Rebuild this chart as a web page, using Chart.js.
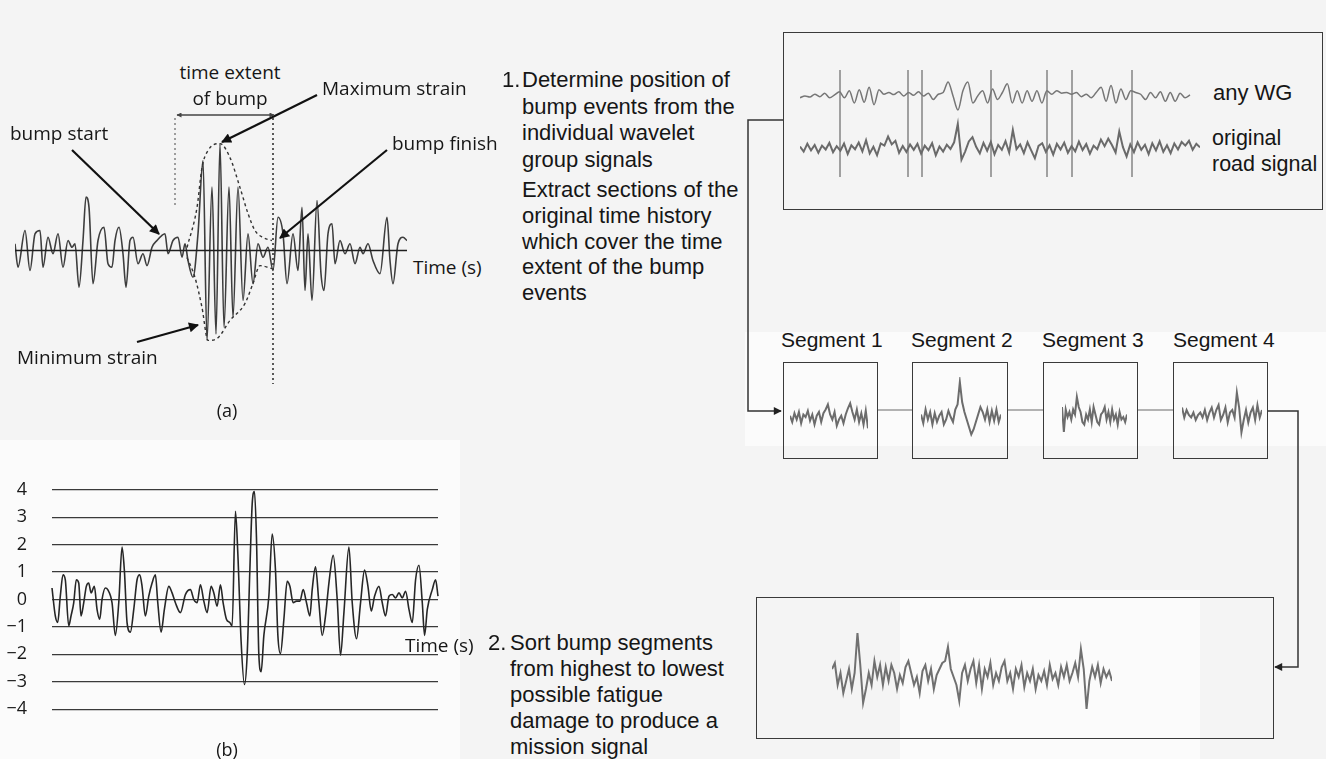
<!DOCTYPE html>
<html>
<head>
<meta charset="utf-8">
<title>Bump segments to mission signal</title>
<script src="https://cdn.jsdelivr.net/npm/chart.js@4.4.1/dist/chart.umd.min.js"></script>
<style>
html, body { margin: 0; padding: 0; }
body {
    width: 1326px; height: 759px; position: relative; overflow: hidden;
    background: #f4f4f4; color: #161616;
    font-family: "Liberation Sans", Arial, sans-serif;
}
canvas { position: absolute; }
.patch { position: absolute; background: #fbfbfb; }
.box { position: absolute; border: 1.5px solid #3a3a3a; box-sizing: border-box; }
.lbl { position: absolute; font-family: "Open Sans", sans-serif; font-size: 19px; line-height: 24px; white-space: nowrap; }
.txt { position: absolute; font-size: 22px; white-space: nowrap; }
.seg { position: absolute; font-size: 21px; line-height: 24px; white-space: nowrap; }
svg { position: absolute; left: 0; top: 0; }
</style>
</head>
<body>

<div class="patch" style="left:0;top:440px;width:460px;height:319px"></div>
<div class="patch" style="left:745px;top:332px;width:581px;height:114px"></div>
<div class="patch" style="left:900px;top:590px;width:300px;height:169px"></div>

<!-- panel (a) -->
<canvas id="chartA" width="392" height="297" style="left:15px;top:102px"></canvas>
<div class="lbl" style="left:230px;top:60px;transform:translateX(-50%)">time extent</div>
<div class="lbl" style="left:230px;top:86px;transform:translateX(-50%)">of bump</div>
<div class="lbl" style="left:322px;top:76px">Maximum strain</div>
<div class="lbl" style="left:10px;top:121px">bump start</div>
<div class="lbl" style="left:392px;top:131px">bump finish</div>
<div class="lbl" style="left:413px;top:255px">Time (s)</div>
<div class="lbl" style="left:17px;top:345px">Minimum strain</div>
<div class="lbl" style="left:227px;top:398px;font-size:18px;transform:translateX(-50%)">(a)</div>

<!-- panel (b) -->
<canvas id="chartB" width="445" height="291" style="left:0;top:454px"></canvas>
<div class="lbl" style="left:405px;top:633px">Time (s)</div>
<div class="lbl" style="left:227px;top:737px;font-size:18px;transform:translateX(-50%)">(b)</div>

<!-- step texts -->
<div class="txt" style="left:502px;top:67px;line-height:26.5px">1.</div>
<div class="txt" style="left:522px;top:67px;line-height:26.5px">Determine position of<br>bump events from the<br>individual wavelet<br>group signals</div>
<div class="txt" style="left:522px;top:177px;line-height:25.8px">Extract sections of the<br>original time history<br>which cover the time<br>extent of the bump<br>events</div>
<div class="txt" style="left:488px;top:630px;line-height:26px">2.</div>
<div class="txt" style="left:510px;top:630px;line-height:26px">Sort bump segments<br>from highest to lowest<br>possible fatigue<br>damage to produce a<br>mission signal</div>

<!-- top box -->
<div class="box" style="left:783px;top:32px;width:540px;height:178px"></div>
<canvas id="chartTop" width="400" height="130" style="left:800px;top:55px"></canvas>
<div class="seg" style="left:1213px;top:81px;font-size:22px">any WG</div>
<div class="seg" style="left:1212px;top:125px;font-size:21.5px;line-height:26px">original<br>road signal</div>

<!-- segments -->
<div class="seg" style="left:781px;top:328px">Segment 1</div>
<div class="seg" style="left:911px;top:328px">Segment 2</div>
<div class="seg" style="left:1042px;top:328px">Segment 3</div>
<div class="seg" style="left:1173px;top:328px">Segment 4</div>
<div class="box" style="left:783px;top:362px;width:95px;height:97px"></div>
<div class="box" style="left:912px;top:362px;width:96px;height:97px"></div>
<div class="box" style="left:1043px;top:362px;width:95px;height:97px"></div>
<div class="box" style="left:1173px;top:362px;width:95px;height:97px"></div>
<canvas id="seg1" width="78" height="80" style="left:790px;top:377px"></canvas>
<canvas id="seg2" width="80" height="80" style="left:921px;top:377px"></canvas>
<canvas id="seg3" width="65" height="80" style="left:1062px;top:377px"></canvas>
<canvas id="seg4" width="80" height="80" style="left:1182px;top:375px"></canvas>

<!-- mission box -->
<div class="box" style="left:756px;top:597px;width:518px;height:142px"></div>
<canvas id="mission" width="280" height="100" style="left:832px;top:627px"></canvas>

<svg width="1326" height="759">
    <defs>
        <marker id="ah" viewBox="0 0 10 10" refX="9" refY="5" markerWidth="13" markerHeight="10"
                markerUnits="userSpaceOnUse" orient="auto-start-reverse">
            <path d="M0,0 L10,5 L0,10 z" fill="#111"/>
        </marker>
        <marker id="ahs" viewBox="0 0 10 10" refX="9" refY="5" markerWidth="10" markerHeight="8"
                markerUnits="userSpaceOnUse" orient="auto-start-reverse">
            <path d="M0,0 L10,5 L0,10 z" fill="#222"/>
        </marker>
        <marker id="aht" viewBox="0 0 10 10" refX="9" refY="5" markerWidth="6" markerHeight="5"
                markerUnits="userSpaceOnUse" orient="auto-start-reverse">
            <path d="M0,0 L10,5 L0,10 z" fill="#444"/>
        </marker>
    </defs>
    <g stroke="#111" stroke-width="2.2" fill="none">
        <line x1="72" y1="150" x2="159" y2="234" marker-end="url(#ah)"/>
        <line x1="317" y1="95" x2="222" y2="142" marker-end="url(#ah)"/>
        <line x1="387" y1="150" x2="280" y2="238" marker-end="url(#ah)"/>
        <line x1="137" y1="342" x2="198" y2="325" marker-end="url(#ah)"/>
    </g>
    <line x1="177" y1="115" x2="274" y2="115" stroke="#444" stroke-width="1.3"
          marker-start="url(#aht)" marker-end="url(#aht)"/>
    <g stroke="#333" stroke-width="1.6" stroke-dasharray="2,3" fill="none">
        <line x1="175" y1="118" x2="175" y2="205" stroke="#888"/>
        <line x1="273" y1="118" x2="273" y2="384"/>
    </g>
    <g stroke="#333" stroke-width="1.5" fill="none">
        <polyline points="783,120 748,120 748,411 781,411" marker-end="url(#ahs)"/>
        <polyline points="1268,411 1298,411 1298,667 1275,667" marker-end="url(#ahs)"/>
    </g>
    <g stroke="#9a9a9a" stroke-width="1.5">
        <line x1="878" y1="410" x2="912" y2="410"/>
        <line x1="1008" y1="410" x2="1043" y2="410"/>
        <line x1="1138" y1="410" x2="1173" y2="410"/>
    </g>
</svg>

<script>
// (a) strain history around a bump, time in 0.1 s units
const aTime = [0, 0.3, 1, 1.5, 2, 2.5, 2.8, 3.3, 3.8, 4.3, 4.8, 5.3, 5.7, 6, 6.4, 6.8, 7.1, 7.4, 7.8, 8.3,
    8.9, 9.3, 9.7, 10, 10.4, 10.8, 11.1, 11.5, 11.8, 12.3, 12.8, 13.2, 13.7, 14.2, 14.7, 15, 15.3, 15.8, 16.3, 16.7,
    17, 17.3, 17.8, 18.3, 18.8, 19.2, 19.7, 20.1, 20.5, 20.9, 21.4, 21.8, 22.3, 22.8, 23.3, 23.8, 24.3, 24.8, 25.3, 25.8,
    26.3, 26.8, 27.2, 27.8, 28.3, 28.7, 29, 29.3, 29.7, 30.2, 30.6, 30.9, 31.3, 31.7, 32, 32.5, 33, 33.5, 34, 34.5,
    34.8, 35.3, 35.8, 36.5, 37.2, 37.5, 37.8, 38.3, 38.8, 39.2];
const aStrain = [0.25, -0.62, 0.74, -0.74, 0.62, 0.74, -0.62, 0.49, -0.12, 0.62, -0.62, 0.37, 0.12, 0.25, -1.36, 0.37, 1.98, 1.6, -1.23, 0.37,
    0.86, -0.49, -0.62, 0.37, 0.86, -0.12, -1.36, 0.37, 0.49, -0.49, -0.12, -0.56, 0.12, 0.37, 0.56, 0.62, -0.12, 0.37, 0.49, -0.25,
    0.25, -0.37, -0.99, 0.62, 3.33, -3.33, 2.35, -3.09, 3.95, -2.84, 2.35, -2.47, 2.35, -1.85, 0.62, -1.23, 0.25, -0.25, 0.12, -0.74,
    1.23, 0.62, -1.23, 0.62, -0.74, 1.6, -1.48, 0.62, -1.85, 1.85, -0.86, -1.48, 0.62, 0.99, -0.49, 0.37, -0.12, 0.25, -0.49, 0.12,
    -0.12, 0.25, -0.37, -0.86, 1.23, -0.37, -1.23, 0.25, 0.49, 0.37];
const upperEnvTime = [17.2, 18.2, 18.7, 19.3, 20.5, 21.5, 22.5, 23.3, 24.0, 24.8, 25.7];
const upperEnv = [0.11, 1.59, 3.07, 3.7, 3.96, 3.44, 2.33, 1.37, 0.74, 0.48, 0.37];
const lowerEnvTime = [17.2, 18.0, 18.7, 19.3, 20.2, 21.5, 23.0, 23.8, 24.5, 25.7];
const lowerEnv = [-0.26, -1.0, -2.11, -3.33, -3.26, -2.59, -1.96, -1.22, -0.56, -0.67];

// (b) normalised signal with level lines
const bTime = [0, 0.33, 0.57, 0.83, 1.1, 1.33, 1.67, 1.9, 2.17, 2.43, 2.67, 2.9, 3.17, 3.43, 3.67, 3.9, 4.23, 4.5, 4.77, 5,
    5.33, 5.57, 6, 6.33, 6.67, 7, 7.23, 7.5, 7.83, 8.17, 8.5, 8.77, 9, 9.33, 9.67, 10, 10.33, 10.57, 10.9, 11.23,
    11.67, 12, 12.33, 12.83, 13.33, 13.83, 14.17, 14.5, 14.83, 15.17, 15.5, 15.9, 16.17, 16.5, 16.83, 17.1, 17.43, 17.77, 18, 18.33,
    18.57, 18.9, 19.23, 19.5, 19.77, 20, 20.23, 20.43, 20.67, 20.9, 21.17, 21.67, 22, 22.33, 22.57, 22.83, 23.17, 23.5, 23.77, 24.1,
    24.43, 24.77, 25.1, 25.43, 25.77, 26, 26.33, 26.67, 27, 27.33, 27.67, 28.1, 28.5, 28.83, 29.17, 29.67, 30, 30.43, 30.83, 31.23,
    31.57, 31.9, 32.23, 32.67, 33, 33.33, 33.67, 34, 34.33, 34.67, 35, 35.33, 35.67, 36, 36.33, 36.67, 37, 37.23, 37.5, 38,
    38.33, 38.57];
const bValue = [0.42, -0.6, -0.84, 0.12, 0.9, 0.72, -0.96, -0.6, -0.12, 0.72, 0.6, -0.6, -0.12, 0.48, 0.6, 0.24, 0.48, -0.36, -0.72, 0,
    0.42, 0.36, -0.12, -1.31, -0.12, 1.91, 1.07, -0.84, -1.19, -0.36, 0.72, 0.9, 0.48, -0.6, 0.12, 0.6, 0.9, -0.12, -1.19, -0.36,
    0.48, 0.24, -0.12, -0.48, 0.18, 0.36, 0, -0.12, 0.54, -0.06, -0.48, 0.48, 0.24, -0.24, 0.54, -0.12, -0.72, -0.84, -0.96, 3.22,
    1.67, -1.55, -3.1, -2.03, 1.07, 3.46, 3.94, 2.27, -2.03, -2.63, -1.31, 0.12, 2.39, 1.07, -1.31, -1.97, -0.72, 0.66, 0.48, -0.12,
    -0.06, -0.06, 0.36, -0.12, -0.6, 0.36, 1.19, -0.12, -1.31, -0.6, 0.6, 1.61, 0, -2.03, -0.48, 1.91, -0.12, -1.43, -0.12, 1.07,
    0.48, -0.42, 0.12, 0.48, -0.12, -0.6, 0.12, 0.18, 0.06, 0.24, 0.06, 0.3, -0.36, -0.84, 0.72, 1.25, -0.12, -1.31, -0.36, 0.36,
    0.72, 0.12];
const bTicks = [-4, -3, -2, -1, 0, 1, 2, 3, 4];
const bTickLabels = ['\u22124', '\u22123', '\u22122', '\u22121', '0', '1', '2', '3', '4'];

// top box: one wavelet group and the road signal, sampled evenly over 0..100
const wgSignal = [-0.5, 0, -0.3, 0.5, -0.2, 0.8, -0.5, 0.3, 1.2, -0.5,
    1.5, -2.0, 1.8, -1.8, 2.5, -2.5, 1.8, 0.5, 1.0, 0.4,
    1.2, 0.0, 1.0, 0.2, 1.2, 0.0, 0.8, -1.0, 0.5, 1.0,
    4.0, 0.0, -4.0, 1.5, 4.0, -2.0, 0.0, 1.5, -2.0, 2.0,
    -1.0, 1.0, 3.5, -2.0, 1.5, -2.0, 1.5, -1.5, 1.5, -2.0,
    1.5, 0.5, 1.5, 0.8, 1.0, 0.5, 1.0, -0.2, 0.5, -0.5,
    1.0, 2.5, -1.5, 3.0, -2.0, 2.0, -1.0, 1.5, 1.0, 0.5,
    -1.0, 1.0, -0.5, 1.2, -1.5, 1.0, -1.5, 0.8, -0.5, 0.3];
const roadSignal = [0.5, -1.2, 1.4, -0.8, 1.0, -1.6, 0.8, -0.5, 1.7, -1.4,
    0.6, -0.9, 1.5, -2.0, 0.9, -0.4, 1.8, -1.1, 2.6, -1.8,
    0.4, -2.4, 1.5, 0.8, 3.8, 1.2, 2.4, -1.6, 0.7, -1.3,
    1.2, -0.6, 1.4, -1.9, 0.8, -0.7, 1.6, -2.4, 0.5, -1.2,
    1.1, -0.3, 1.9, 8.0, -3.9, -1.2, 2.2, 3.6, 0.4, -1.8,
    1.7, -0.9, 2.0, -2.1, 1.0, -0.6, 2.3, -1.5, 6.0, -0.4,
    1.2, -1.7, 1.9, -0.8, -3.4, 0.7, 1.6, -1.3, 0.9, -2.2,
    1.4, -0.5, 1.8, -1.6, 0.6, -1.1, 2.1, -0.7, 1.3, -1.9,
    0.8, -0.4, 2.8, 0.6, 3.1, 1.0, -1.5, 5.5, 0.3, -2.8,
    1.2, -1.4, 1.9, -0.6, 1.1, -2.0, 1.6, -0.8, 2.2, -1.3,
    0.9, -1.7, 1.5, -0.5, 2.0, 0.8, 2.4, -0.6, 1.4, 0.2];
const bumpTimes = [10, 27, 30.5, 47.75, 61.75, 68, 83];
const bumpLineTop = 26;
const bumpLineBottom = -9.7;

// extracted bump segments
const segment1 = [0.5, -2, 1.5, -1, 2, -2.5, 1, 0, 2.5, -1.5, 1, -3, 0.5, 2, -2, 1.5, 3, 5, 1, -1,
    2, -3.5, -1, 0.5, -2.5, 1, 3.5, 5.5, 2, -1, 3, -2, 1.5, -3, 2.5, -4.5];
const segment2 = [1, -2.5, 3, -1, 2, -3, 1.5, -2, 0.5, 2, -3, -1, 2.5, 0, -2, 3, 5, 14, 6, 2,
    -1, -4, -7, -5, -2, 1, 4, 2, -1, 3, -2, 2.5, -1.5, 3, -2, 1];
const segment3 = [4, -6, 3, 0, 2, -1, 3, 1, 8, 4, 2, -2, -3, 1, -1, 3, -2, 4, 1, -2,
    -3, 1, 2, 4, -1, 2, -2, 3, -1, 1, -3, 2, -1, 0, -2, 1];
const segment4 = [3, -1, 2, 0, -1, 1, -2, 0, 1, -1, 2, -2, 1, 3, -1, 2, 4, -2, 0, 3,
    -3, 1, 2, -1, 9, 3, -7, -2, 2, -3, 1, 3, -2, 4, -1, 2];

// sorted mission signal
const missionSignal = [2, 3.5, -2, 1, -4, -1, 2, -3, 1, 11,
    3, -6.5, -3, 1, -2, 4, 0, 3, -2, 2.5,
    -1, 3, 1, -3, 0.5, -1.5, 2.5, 4, 1, -2,
    0, -4, 1.5, 3, -1, 2, -3, 0.5, 2, 3.5,
    4, 7.5, 2, 0, -2, -6, 1, 3, -1, 2,
    4, -1.5, 3, -3, 2, 0, 3.5, -2, 1, -1,
    2.5, 4, -1, 1, -3, 2, 0, 3, -2.5, 1,
    -1, 2, -3, 0.5, -1, 1.5, -2, 3, -0.5, 1,
    -2, 2.5, 0, 3, -1, 1, 3.5, 0, 7, 2,
    -8, -1, 2.5, 0, 3, -1.5, 2, 0, 1.5, -1];

Chart.defaults.font.family = '"Open Sans", sans-serif';

function pairs(xs, ys) {
    return xs.map((x, i) => ({ x: x, y: ys[i] }));
}

function evenly(values, span) {
    const step = span / (values.length - 1);
    return values.map((v, i) => ({ x: i * step, y: v }));
}

function line(data, color, width, extra) {
    return Object.assign({
        data: data,
        borderColor: color,
        borderWidth: width,
        pointRadius: 0,
        tension: 0,
        fill: false,
        clip: false
    }, extra || {});
}

const smooth = { cubicInterpolationMode: 'monotone' };

function hidden(min, max) {
    return { type: 'linear', min: min, max: max, display: false };
}

function drawChart(id, datasets, scales, plugins, padding) {
    return new Chart(document.getElementById(id).getContext('2d'), {
        type: 'line',
        data: { datasets: datasets },
        options: {
            responsive: false,
            animation: false,
            devicePixelRatio: 1,
            layout: { padding: padding || 0 },
            plugins: { legend: { display: false }, tooltip: { enabled: false } },
            scales: scales
        },
        plugins: plugins || []
    });
}

// (a)
drawChart('chartA', [
    line([{ x: 0, y: 0 }, { x: 39.2, y: 0 }], '#1e1e1e', 1.5),
    line(pairs(upperEnvTime, upperEnv), '#333', 1.4, { borderDash: [3, 3], cubicInterpolationMode: 'monotone' }),
    line(pairs(lowerEnvTime, lowerEnv), '#333', 1.4, { borderDash: [3, 3], cubicInterpolationMode: 'monotone' }),
    line(pairs(aTime, aStrain), '#3d3d3d', 1.6, smooth)
], { x: hidden(0, 39.2), y: hidden(-5.5, 5.5) });

// (b)
drawChart('chartB', [
    line(pairs(bTime, bValue), '#262626', 1.6, smooth)
], {
    x: hidden(0, 38.57),
    y: {
        type: 'linear', min: -4, max: 4,
        afterFit: function (scale) { scale.width = 52; },
        border: { display: false },
        grid: { color: '#3a3a3a', lineWidth: 1.3, drawTicks: false },
        ticks: {
            stepSize: 1,
            padding: 25,
            color: '#1a1a1a',
            font: { size: 18 },
            callback: function (value) { return bTickLabels[bTicks.indexOf(value)]; }
        }
    }
}, [], { top: 10, bottom: 10, right: 7 });

// top box with bump markers
const bumpLines = {
    id: 'bumpLines',
    beforeDatasetsDraw(chart) {
        const { ctx, scales: { x, y2 } } = chart;
        ctx.save();
        ctx.strokeStyle = '#858585';
        ctx.lineWidth = 1.5;
        bumpTimes.forEach(t => {
            const px = x.getPixelForValue(t);
            ctx.beginPath();
            ctx.moveTo(px, y2.getPixelForValue(bumpLineTop));
            ctx.lineTo(px, y2.getPixelForValue(bumpLineBottom));
            ctx.stroke();
        });
        ctx.restore();
    }
};
drawChart('chartTop', [
    line(evenly(wgSignal, 97.5), '#767676', 1.5, { yAxisID: 'y', cubicInterpolationMode: 'monotone' }),
    line(evenly(roadSignal, 100), '#6a6a6a', 2, { yAxisID: 'y2' })
], { x: hidden(0, 100), y: hidden(-25.43, 11.71), y2: hidden(-12.33, 31) }, [bumpLines]);

// segments and mission
[['seg1', segment1], ['seg2', segment2], ['seg3', segment3], ['seg4', segment4]].forEach(([id, values]) => {
    drawChart(id, [line(evenly(values, 35), '#6c6c6c', 2)], { x: hidden(0, 35), y: hidden(-16, 16) });
});
drawChart('mission', [line(evenly(missionSignal, 99), '#707070', 2)], { x: hidden(0, 99), y: hidden(-12.5, 12.5) });
</script>
</body>
</html>
